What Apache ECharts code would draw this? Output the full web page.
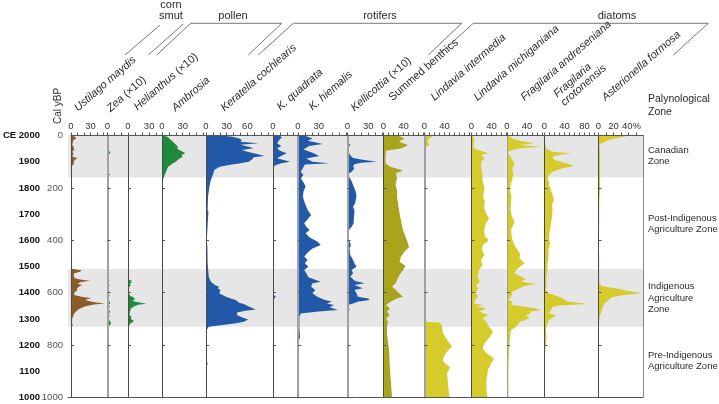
<!DOCTYPE html>
<html><head><meta charset="utf-8">
<script src="https://cdn.jsdelivr.net/npm/echarts@6/dist/echarts.min.js"></script>
<style>html,body{margin:0;padding:0;background:#fff}#c{width:719px;height:404px}</style>
</head><body><div id="c"></div>
<script>
// ---------------- DATA ([cal yBP, value]) ----------------
const zoneBands = [[0,160],[510,730]];
const calTicks = [0,200,400,600,800,1000];
const ceTicks = [0,100,200,300,400,500,600,700,800,900,1000];

const ustilagoMaydis = [[0,0],[4,6],[11,8],[17,4],[24,3],[36,2],[43,4],[55,5],[62,2],[70,4],[80,2],[87,10],[93,6],[100,4],[106,5],[113,3],[119,0],[508,0],[511,8],[514,16],[520,14],[526,5],[535,4],[545,6],[550,14],[554,29],[560,14],[566,10],[571,17],[577,12],[583,9],[590,10],[600,5],[609,5],[615,16],[621,31],[627,22],[631,25],[637,38],[641,52],[645,35],[653,21],[660,14],[666,10],[679,5],[698,2],[717,1.5],[725,3],[730,0],[1000,0]];
const zea = [[0,0],[5,1],[12,2],[18,1],[30,1],[40,2],[50,1],[68,4],[72,2],[85,1],[95,2],[105,1],[120,1],[145,2],[150,4],[155,1],[160,0],[548,0],[552,3],[558,2],[565,1],[572,3],[578,1],[590,2],[600,1],[610,3],[620,1],[630,2],[640,4],[645,2],[655,3],[665,1],[672,4],[680,2],[690,3],[700,1],[710,4],[718,5],[725,3],[730,0],[1000,0]];
const helianthus = [[0,0],[550,0],[554,6],[558,3],[562,6],[566,2],[572,4],[580,1],[600,1],[612,3],[618,8],[625,10],[632,6],[638,18],[642,26],[646,14],[652,9],[660,4],[672,3],[685,2],[692,5],[700,4],[706,8],[712,7],[718,3],[725,2],[730,0],[1000,0]];
const ambrosia = [[0,0],[2,4],[5,8],[17,13],[30,18],[43,23],[50,22],[55,25],[62,30],[68,34],[74,28],[81,30],[91,24],[100,20],[106,16],[119,9],[130,7],[138,6],[150,4],[157,3],[170,1],[178,0],[1000,0]];
const keratellaCochlearis = [[0,0],[2,29],[4.5,38],[11,48],[17,52],[23.5,50],[30,76],[35,50],[43,62],[49,69],[55,52],[62,60],[71,74],[78,85],[83,69],[91,67],[100,62],[106,50],[113,33],[119,20],[132,12],[151,10],[170,7],[195,5],[233,3],[284,2.4],[290,3.5],[361,2],[400,1],[424,2],[488,2.4],[539,4],[558,7],[571,13],[577,19],[583,17],[590,21],[602,19],[615,29],[622,36],[628,43],[638,48],[643,55],[653,62],[664,72],[669,57],[676,45],[685,45],[694,52],[702,61],[711,55],[717,43],[723,24],[730,4],[742,1],[806,1.5],[860,1],[870,2.4],[883,1],[920,0.5],[1000,0]];
const kQuadrata = [[0,0],[2,10],[7,13],[17,9],[30,6],[40,12],[49,6],[58,10],[68,20],[76,13],[87,6],[100,25],[106,12],[113,4],[119,1],[132,0.5],[600,0.5],[609,1],[615,4],[622,2],[628,0],[1000,0]];
const kHiemalis = [[0,0],[2,11],[11,21],[20,14],[32,36],[40,16],[53,8],[66,21],[78,31],[88,12],[100,21],[106,46],[111,10],[125,7],[138,4],[151,8],[164,4],[183,9],[195,11],[214,8],[233,7],[259,10],[284,14],[303,19],[320,14],[335,9],[348,12],[361,17],[373,11],[389,17],[405,28],[418,33],[431,21],[447,14],[462,9],[475,14],[488,10],[501,15],[513,9],[526,12],[541,15],[558,33],[564,21],[577,19],[590,25],[602,21],[615,28],[628,39],[634,49],[641,42],[647,52],[656,46],[666,58],[672,30],[679,4],[692,2],[730,2],[774,3],[783,0],[1000,0]];
const kellicottia = [[0,0],[25,0],[30,2],[36,4],[43,2],[68,2],[78,5],[86,8],[93,22],[100,42],[104,20],[110,10],[117,8],[125,10],[132,8],[138,6],[146,1],[152,0],[160,3],[175,6],[188,8],[201,10],[215,12],[230,13],[246,12],[259,11],[272,8],[284,10],[300,10],[320,9],[335,9],[348,6],[361,2],[386,1],[405,3],[418,5],[431,3],[456,4],[469,7],[488,10],[501,13],[513,6],[526,8],[539,4],[555,11],[564,25],[571,10],[583,22],[590,10],[602,13],[615,15],[622,30],[628,32],[634,16],[641,8],[647,1],[666,3],[672,0],[1000,0]];
const summedBenthics = [[0,0],[2,32],[11,42],[23.5,31],[36,49],[49,37],[58,5],[81,4],[106,4],[119,13],[127,27],[134,39],[144,25],[164,27],[189,24],[208,27],[233,27],[259,29],[297,32],[335,36],[361,39],[386,44],[412,49],[427,51],[443,42],[462,35],[482,32],[498,44],[513,39],[532,32],[552,27],[564,24],[577,17],[590,25],[602,31],[615,39],[622,27],[634,15],[647,5],[660,13],[672,7],[685,12],[698,5],[711,9],[730,7],[755,7],[819,11],[895,13],[1000,17]];
const lindaviaIntermedia = [[0,0],[2,17],[6,14],[11,10],[17,8],[24,6],[30,8],[36,10],[43,4],[49,1],[55,0],[711,0],[714,31],[723,34],[742,36],[755,37],[780,45],[804,55],[825,45],[850,37],[862,37],[885,51],[908,45],[946,47],[984,49],[1000,51]];
const lindaviaMichiganiana = [[0,0],[2,3],[17,6],[43,3],[53,9],[59,21],[68,33],[74,19],[87,26],[100,19],[119,19],[144,22],[170,22],[202,26],[233,23],[253,27],[272,25],[297,29],[316,35],[335,29],[361,25],[386,27],[399,35],[418,23],[437,21],[456,26],[475,19],[494,22],[513,15],[539,12],[558,17],[571,9],[583,13],[602,9],[615,13],[628,7],[641,5],[647,23],[653,9],[660,30],[672,15],[685,33],[698,22],[711,30],[730,35],[749,43],[768,37],[793,26],[812,22],[831,30],[851,45],[870,39],[895,33],[933,30],[971,30],[1000,32]];
const fragilariaAndreseniana = [[0,0],[2,5],[11,11],[20,25],[30,55],[36,25],[43,68],[49,25],[55,11],[62,2],[74,5],[87,9],[100,13],[113,15],[125,10],[144,13],[164,11],[183,8],[208,6],[233,9],[259,8],[284,7],[310,10],[329,15],[348,11],[361,8],[380,9],[399,11],[418,15],[431,19],[450,26],[469,25],[488,35],[501,26],[513,18],[526,15],[539,29],[549,37],[558,28],[567,58],[574,35],[583,25],[596,11],[615,8],[628,3],[634,11],[647,8],[653,31],[660,58],[666,68],[672,45],[679,48],[685,38],[698,45],[711,25],[730,18],[742,8],[793,5],[870,3],[1000,3]];
const fragilariaCrotonensis = [[0,0],[2,0.5],[30,1],[49,3],[62,16],[68,53],[74,29],[81,16],[93,19],[106,43],[116,59],[125,36],[138,16],[151,9],[164,6],[176,9],[189,9],[208,13],[227,16],[246,19],[265,15],[284,16],[310,15],[335,13],[361,11],[386,9],[412,11],[437,8],[462,8],[488,6],[513,6],[539,4],[564,4],[590,3],[602,9],[609,19],[621,36],[634,46],[643,86],[649,29],[656,16],[666,13],[679,9],[685,23],[692,19],[704,9],[717,6],[730,4],[742,3],[768,4],[793,3],[819,1],[831,0],[1000,0]];
const asterionellaFormosa = [[0,0],[1,36],[3,37],[7,29],[17,14],[30,4],[36,1],[60,2],[100,2],[150,2],[200,2],[260,1],[330,1],[400,0.5],[480,1],[560,1],[574,4],[583,22],[592,37],[602,58],[609,34],[618,17],[628,14],[640,8],[653,6],[672,4],[685,2],[704,1],[712,0],[1000,0]];

const taxonLabels = ['{i|Ustilago maydis}','{i|Zea} (×10)','{i|Helianthus} (×10)','{i|Ambrosia}','{i|Keratella cochlearis}','{i|K. quadrata}','{i|K. hiemalis}','{i|Kellicottia} (×10)','Summed benthics','{i|Lindavia intermedia}','{i|Lindavia michiganiana}','{i|Fragilaria andreseniana}','{i|Fragilaria}\n{i|crotonensis}','{i|Asterionella formosa}'];
const groupLabels = ['corn\nsmut','pollen','rotifers','diatoms'];
const zoneLabels = ['Canadian\nZone','Post-Indigenous\nAgriculture Zone','Indigenous\nAgriculture\nZone','Pre-Indigenous\nAgriculture Zone'];

// ---------------- LAYOUT / STYLE ----------------
const FONT = '"Liberation Sans", Arial, sans-serif';
const BROWN='#8c5b2a', GREEN='#1d8a3c', BLUE='#2159a8', OLIVE='#aaa31c', YEL='#d5cc2b';
const DARK='#4a4a4a', GRAY='#a0a0a0';
const panels = [
 {d:ustilagoMaydis, x:68, w:39.5, s:0.705, lab:[0,30], c:BROWN, lc:DARK, lw:1},
 {d:zea, x:107.5, w:20.5, s:0.705, lab:[0], c:GREEN, lc:GRAY, lw:2},
 {d:helianthus, x:128, w:34, s:0.705, lab:[0,30], c:GREEN, lc:DARK, lw:1},
 {d:ambrosia, x:162, w:44, s:0.69, lab:[0,30], c:GREEN, lc:DARK, lw:1},
 {d:keratellaCochlearis, x:206, w:67, s:0.69, lab:[0,30,60], c:BLUE, lc:DARK, lw:1},
 {d:kQuadrata, x:273, w:25, s:0.69, lab:[0], c:BLUE, lc:DARK, lw:1},
 {d:kHiemalis, x:298, w:49.5, s:0.69, lab:[0,30], c:BLUE, lc:GRAY, lw:2},
 {d:kellicottia, x:347.5, w:36, s:0.69, lab:[0,30], c:BLUE, lc:GRAY, lw:2},
 {d:summedBenthics, x:383.5, w:41, s:0.5, lab:[0,40], c:OLIVE, lc:DARK, lw:1},
 {d:lindaviaIntermedia, x:424.5, w:47, s:0.5, lab:[0,40], c:YEL, lc:GRAY, lw:2},
 {d:lindaviaMichiganiana, x:471.5, w:35.5, s:0.5, lab:[0,40], c:YEL, lc:DARK, lw:1},
 {d:fragilariaAndreseniana, x:507, w:37.5, s:0.5, lab:[0,40], c:YEL, lc:GRAY, lw:1},
 {d:fragilariaCrotonensis, x:544.5, w:54, s:0.5, lab:[0,40,80], c:YEL, lc:DARK, lw:1},
 {d:asterionellaFormosa, x:598.5, w:44.5, s:0.75, lab:[0,20], c:YEL, lc:DARK, lw:1, pct:40}
];
const TOP=135.5, H=262;
const labelPos = [[79.5,113.5],[112,114],[139,112.5],[177,113.5],[226,113.5],[282,112.5],[314,112.5],[356,113.5],[394,103],[436,103],[479,103],[526,103],[566,108],[607,103]];

const grids=[], xAxis=[], yAxis=[], series=[];
panels.forEach((p,i)=>{
  const max = p.w/p.s;
  const ticks=[]; for(let v=0; v<=max+0.001; v+=10) ticks.push(v);
  grids.push({left:p.x, top:TOP, width:p.w, height:H});
  xAxis.push({gridIndex:i, type:'value', position:'top', min:0, max:max, z:5,
    axisLine:{show:true, onZero:false, lineStyle:{color:'#555', width:1}},
    axisTick:{show:true, inside:false, length:3, customValues:ticks, lineStyle:{color:'#555', width:1}},
    axisLabel:{show:true, customValues:p.lab, margin:4, fontSize:9.5, color:'#333', fontFamily:FONT,
      showMinLabel:true, showMaxLabel:true, formatter: v => String(v)},
    splitLine:{show:false}});
  const first = i===0;
  yAxis.push({gridIndex:i, type:'value', inverse:true, min:0, max:1000, position:'left', z:5,
    axisLine:{show:true, onZero:false, lineStyle:{color:p.lc, width:p.lw}},
    axisTick:{show:true, inside:true, length:3, customValues: first? calTicks : [200,400,600,800], lineStyle:{color:'#555'}},
    axisLabel:{show:first, customValues:calTicks, margin:8, fontSize:9.5, color:'#555', fontFamily:FONT,
      showMinLabel:true, showMaxLabel:true, formatter: v => String(v)},
    splitLine:{show:false}});
  const pts = p.d;
  series.push({type:'custom', xAxisIndex:i, yAxisIndex:i, z:3, silent:true, clip:true,
    data: pts.map(d=>[d[1], d[0]]),
    renderItem:(params, api)=>{
      if(params.dataIndex!==0) return null;
      const poly=[api.coord([0, pts[0][0]])];
      pts.forEach(d=>poly.push(api.coord([d[1], d[0]])));
      poly.push(api.coord([0, pts[pts.length-1][0]]));
      return {type:'polygon', shape:{points:poly}, style:{fill:p.c, stroke:null}};
    }});
  if (p.pct) {
    // separate axis carrying the percent label so it is not hidden by overlap logic
    xAxis.push({gridIndex:i, type:'value', position:'top', min:0, max:max, z:5,
      axisLine:{show:false}, axisTick:{show:false}, splitLine:{show:false},
      axisLabel:{show:true, customValues:[p.pct], margin:4, fontSize:9.5, color:'#333', fontFamily:FONT,
        showMinLabel:true, showMaxLabel:true,
        formatter: v => '{p|' + v + '%}', rich:{p:{fontSize:9.5, fontFamily:FONT, color:'#333', padding:[0,0,0,6]}}}});
  }
});
// CE axis (same grid as first panel)
yAxis.push({gridIndex:0, type:'value', inverse:true, min:0, max:1000, position:'left', offset:31,
  axisLine:{show:false}, axisTick:{show:false}, splitLine:{show:false},
  axisLabel:{customValues:ceTicks, margin:0, fontSize:9.5, fontWeight:'bold', color:'#111', fontFamily:FONT,
    showMinLabel:true, showMaxLabel:true,
    formatter: v => v===0 ? 'CE 2000' : String(2000-v)}});
// frame grid with zone bands
const fi = grids.length;
grids.push({left:68, top:TOP, width:575, height:H});
xAxis.push({gridIndex:fi, type:'value', position:'bottom', min:0, max:1, z:5,
  axisLine:{show:true, onZero:false, lineStyle:{color:'#555'}}, axisTick:{show:false}, axisLabel:{show:false}, splitLine:{show:false}});
const fxi = xAxis.length-1;
yAxis.push({gridIndex:fi, type:'value', position:'right', inverse:true, min:0, max:1000, z:5,
  axisLine:{show:true, onZero:false, lineStyle:{color:'#888'}}, axisTick:{show:false}, axisLabel:{show:false}, splitLine:{show:false}});
series.push({type:'custom', xAxisIndex:fxi, yAxisIndex:yAxis.length-1, z:1, silent:true,
  data: zoneBands,
  renderItem:(params, api)=>{
    const a=api.coord([0, api.value(0)]), b=api.coord([1, api.value(1)]);
    return {type:'rect', shape:{x:a[0], y:a[1], width:b[0]-a[0], height:b[1]-a[1]}, style:{fill:'#e6e6e6'}};
  }});
// fix series axis indices (extra x axis inserted for the percent label)
{
  let xi = 0;
  panels.forEach((p,i)=>{ series[i].xAxisIndex = xi; xi += p.pct ? 2 : 1; });
}

// graphics
const ROT = 41*Math.PI/180;
const graphic = [];
const rich = {i:{fontStyle:'italic', fontSize:11, fontFamily:FONT, fill:'#2a2a2a'}};
taxonLabels.forEach((t,i)=>{
  graphic.push({type:'text', x:labelPos[i][0], y:labelPos[i][1], rotation:ROT,
    style:{text:t, fontSize:11, fontFamily:FONT, fill:'#2a2a2a', textAlign:'left', textVerticalAlign:'bottom', align:'left', verticalAlign:'bottom', lineHeight:11, rich:rich}});
});
const brackets = [
 [[125,55],[160,25]],
 [[148.3,55],[183.3,24]],
 [[156.7,55],[190.7,23.3],[281.7,23.3],[248.3,55]],
 [[258.3,55],[293.3,23.3],[461.7,23.3],[428.3,55]],
 [[438.3,55],[473.3,23.3],[708.3,23.3],[673.3,55]]
];
brackets.forEach(b=>graphic.push({type:'polyline', shape:{points:b}, style:{stroke:'#555', lineWidth:0.8, fill:null}}));
const groupPos = [[171,10.5],[233,16],[380,16],[617,16]];
groupLabels.forEach((t,i)=>graphic.push({type:'text', x:groupPos[i][0], y:groupPos[i][1],
  style:{text:t, fontSize:11, fontFamily:FONT, fill:'#2a2a2a', textAlign:'center', textVerticalAlign:'middle', align:'center', verticalAlign:'middle', lineHeight:10.5}}));
graphic.push({type:'text', x:58, y:106, rotation:Math.PI/2,
  style:{text:'Cal yBP', fontSize:10, fontFamily:FONT, fill:'#333', textAlign:'center', textVerticalAlign:'middle', align:'center', verticalAlign:'middle'}});
graphic.push({type:'text', x:648, y:105.5,
  style:{text:'Palynological\nZone', fontSize:10.5, fontFamily:FONT, fill:'#2a2a2a', textAlign:'left', textVerticalAlign:'middle', align:'left', verticalAlign:'middle', lineHeight:13}});
const zoneY = [156, 224, 298, 361];
zoneLabels.forEach((t,i)=>graphic.push({type:'text', x:648, y:zoneY[i],
  style:{text:t, fontSize:9.5, fontFamily:FONT, fill:'#2a2a2a', textAlign:'left', textVerticalAlign:'middle', align:'left', verticalAlign:'middle', lineHeight:11.7}}));

const chart = echarts.init(document.getElementById('c'));
chart.setOption({animation:false, backgroundColor:'#fff', grid:grids, xAxis:xAxis, yAxis:yAxis, series:series, graphic:graphic});
</script></body></html>
